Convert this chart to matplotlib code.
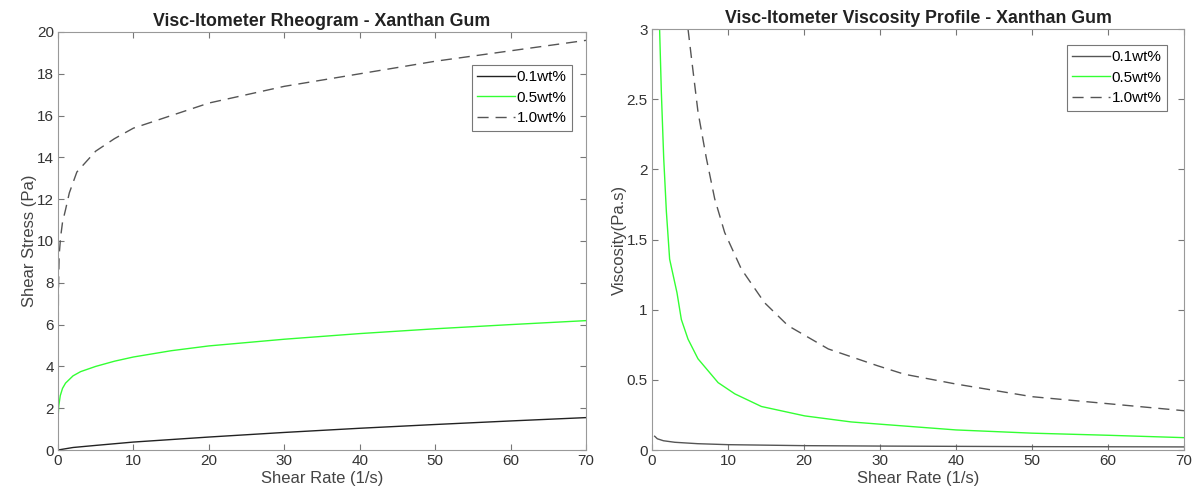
import matplotlib
matplotlib.use("Agg")
import matplotlib.pyplot as plt

plt.rcParams['font.family'] = ['Liberation Sans', 'DejaVu Sans']

labels = ["0.1wt%", "0.5wt%", "1.0wt%"]

# rheogram: shear stress (Pa) vs shear rate (1/s)
rate_01 = [0, 2, 5, 10, 20, 30, 40, 50, 60, 70]
stress_01 = [0, 0.12, 0.22, 0.38, 0.62, 0.84, 1.04, 1.22, 1.39, 1.55]

rate_05 = [0, 0.02, 0.1, 0.3, 0.6, 1, 2, 3, 5, 7.5, 10, 15, 20, 30, 40, 50, 60, 70]
stress_05 = [0, 1.6, 2.1, 2.6, 2.95, 3.2, 3.55, 3.75, 4.0, 4.25, 4.45, 4.75,
             4.98, 5.3, 5.57, 5.8, 6.0, 6.19]

rate_10 = [0, 0.05, 0.15, 0.35, 0.6, 1, 1.5, 2.5, 3.5, 5, 7.5, 10, 12.5, 15,
           20, 25, 30, 40, 50, 60, 70]
stress_10 = [0, 7.5, 9.3, 10.2, 10.9, 11.5, 12.3, 13.3, 13.7, 14.3, 14.9, 15.4,
             15.7, 16.0, 16.6, 17.0, 17.4, 18.0, 18.6, 19.1, 19.6]

# viscosity profile: viscosity (Pa.s) vs shear rate (1/s)
vrate_01 = [0.35, 0.7, 1.5, 3, 6, 10, 20, 30, 40, 50, 60, 70]
visc_01 = [0.098, 0.08, 0.066, 0.055, 0.045, 0.038, 0.031, 0.028, 0.026,
           0.024, 0.023, 0.022]

vrate_05 = [1.0, 1.23, 1.54, 1.89, 2.32, 3.29, 3.86, 4.74, 6.05, 8.7, 10.9,
            14.4, 20.1, 26.2, 30, 40, 50, 60, 70]
visc_05 = [3.0, 2.55, 2.08, 1.70, 1.36, 1.12, 0.93, 0.79, 0.65, 0.48, 0.40,
           0.31, 0.243, 0.2, 0.184, 0.143, 0.12, 0.105, 0.088]

vrate_10 = [4.74, 5.2, 6.05, 7.15, 8.25, 9.56, 11.75, 14.8, 17.9, 23.2, 29.7,
            33.2, 40, 50, 60, 70]
visc_10 = [3.0, 2.79, 2.41, 2.08, 1.79, 1.55, 1.29, 1.05, 0.886, 0.72, 0.60,
           0.54, 0.47, 0.38, 0.33, 0.28]

green = '#33ff33'
dash_gray = '#555555'


def style_axes(ax, title, ylabel, leg_anchor):
    ax.set_title(title, fontsize=12.8, fontweight='bold', color='#222222', pad=4)
    ax.set_xlabel("Shear Rate (1/s)", fontsize=12, color='#444444', labelpad=2)
    ax.set_ylabel(ylabel, fontsize=12, color='#444444', labelpad=0)
    ax.set_xlim(0, 70)
    ax.set_xticks(range(0, 71, 10))
    ax.tick_params(direction='in', length=4, top=True, right=True,
                   labelsize=11, colors='#333333', pad=3)
    ax.tick_params(color='#777777')
    for s in ax.spines.values():
        s.set_color('#999999')
        s.set_linewidth(0.8)
    leg = ax.legend(loc='upper right', bbox_to_anchor=leg_anchor,
                    fontsize=11, fancybox=False, edgecolor='#777777',
                    framealpha=1, handlelength=2.5, borderpad=0.35,
                    labelspacing=0.42, handletextpad=0.1, borderaxespad=0)
    leg.get_frame().set_linewidth(0.8)


fig = plt.figure(figsize=(11.93, 5.01), dpi=100)
ax1 = fig.add_axes([58 / 1193, 1 - 450 / 501, 528 / 1193, 418 / 501])
ax2 = fig.add_axes([652 / 1193, 1 - 450 / 501, 532 / 1193, 421 / 501])

ax1.plot(rate_01, stress_01, color='#222222', lw=1.0, label=labels[0])
ax1.plot(rate_05, stress_05, color=green, lw=1.0, label=labels[1])
ax1.plot(rate_10, stress_10, color=dash_gray, lw=1.0, ls=(0, (8, 5)), label=labels[2])
ax1.set_ylim(0, 20)
ax1.set_yticks(range(0, 21, 2))
style_axes(ax1, "Visc-Itometer Rheogram - Xanthan Gum", "Shear Stress (Pa)",
           (1 - 14 / 528, 1 - 33 / 418))

ax2.plot(vrate_01, visc_01, color='#555555', lw=1.0, label=labels[0])
ax2.plot(vrate_05, visc_05, color=green, lw=1.0, label=labels[1])
ax2.plot(vrate_10, visc_10, color=dash_gray, lw=1.0, ls=(0, (8, 5)), label=labels[2])
ax2.set_ylim(0, 3)
ax2.set_yticks([0, 0.5, 1, 1.5, 2, 2.5, 3])
ax2.set_yticklabels(['0', '0.5', '1', '1.5', '2', '2.5', '3'])
style_axes(ax2, "Visc-Itometer Viscosity Profile - Xanthan Gum", "Viscosity(Pa.s)",
           (1 - 17 / 532, 1 - 16 / 421))

fig.savefig("out.png", dpi=100)
